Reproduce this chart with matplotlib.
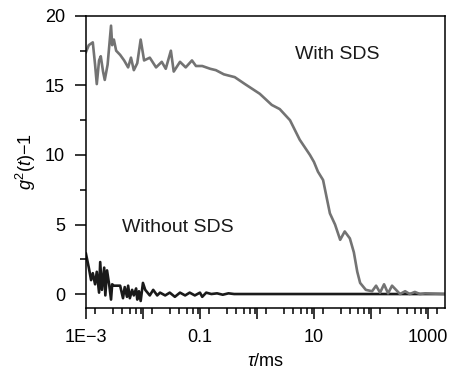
import matplotlib
matplotlib.use("Agg")
import matplotlib.pyplot as plt
import matplotlib.ticker as mticker
import numpy as np

plt.rcParams["font.family"] = ["Liberation Sans", "DejaVu Sans"]
plt.rcParams["mathtext.fontset"] = "custom"
plt.rcParams["mathtext.rm"] = "Liberation Sans"
plt.rcParams["mathtext.it"] = "Liberation Sans:italic"

# log10(tau / ms) and g2(t)-1
logtau_with = [-3.00, -2.95, -2.88, -2.84, -2.81, -2.77, -2.74, -2.70, -2.67, -2.62,
               -2.56, -2.54, -2.51, -2.47, -2.40, -2.33, -2.26, -2.21, -2.16, -2.10,
               -2.04, -1.98, -1.88, -1.77, -1.67, -1.60, -1.51, -1.46, -1.35, -1.25,
               -1.14, -1.07, -0.96, -0.82, -0.72, -0.58, -0.39, -0.21, 0.05, 0.26,
               0.40, 0.58, 0.75, 0.93, 1.00, 1.07, 1.16, 1.28, 1.37, 1.46,
               1.54, 1.63, 1.70, 1.76, 1.81, 1.91, 2.02, 2.09, 2.16, 2.23,
               2.30, 2.37, 2.44, 2.51, 2.60, 2.68, 2.77, 2.86, 2.95, 3.30]
g_with = [17.4, 17.9, 18.1, 16.5, 15.1, 16.8, 17.1, 16.0, 15.4, 16.5,
          19.3, 17.9, 18.3, 17.5, 17.2, 16.8, 16.3, 17.0, 16.1, 16.6,
          18.3, 16.8, 17.0, 16.3, 16.7, 16.2, 17.5, 16.0, 16.7, 16.3,
          16.8, 16.4, 16.4, 16.2, 16.1, 15.8, 15.6, 15.1, 14.4, 13.6,
          13.3, 12.5, 11.1, 10.0, 9.5, 8.8, 8.2, 5.8, 5.0, 3.9,
          4.5, 4.0, 3.0, 1.6, 0.8, 0.3, 0.2, 0.6, 0.1, 0.7,
          0.05, 0.6, 0.3, 0.0, 0.2, 0.0, 0.15, 0.0, 0.05, 0.0]

logtau_without = [-3.00, -2.95, -2.91, -2.88, -2.84, -2.81, -2.77, -2.75, -2.72, -2.68,
                  -2.66, -2.63, -2.59, -2.56, -2.54, -2.51, -2.40, -2.35, -2.32, -2.28,
                  -2.26, -2.23, -2.19, -2.16, -2.12, -2.10, -2.07, -2.04, -2.00, -1.96,
                  -1.88, -1.82, -1.75, -1.70, -1.61, -1.53, -1.44, -1.35, -1.26, -1.18,
                  -1.09, -1.00, -0.96, -0.89, -0.80, -0.70, -0.60, -0.50, -0.40, 0.00,
                  3.30]
g_without = [2.9, 1.9, 1.0, 1.5, 0.7, 1.6, 0.1, 2.3, 0.3, 1.9,
             -0.1, 1.7, 0.6, -0.4, 0.7, 0.6, 0.6, -0.3, 0.5, -0.2,
             0.6, -0.3, 0.3, -0.1, 0.4, -0.4, 0.2, -0.5, 0.8, 0.3,
             -0.1, 0.3, -0.1, 0.1, -0.1, 0.1, -0.2, 0.1, -0.1, 0.1,
             -0.1, 0.1, -0.2, 0.1, 0.0, 0.05, -0.05, 0.05, 0.0, 0.0,
             0.0]

x_tick_vals = [1e-3, 0.1, 10, 1000]
x_tick_labels = ["1E\u22123", "0.1", "10", "1000"]
minor_subs = [1.45, 3.0, 4.3, 5.9, 7.5, 9.2]


def x_label_for(v, pos):
    for tv, tl in zip(x_tick_vals, x_tick_labels):
        if np.isclose(v, tv, rtol=1e-6):
            return tl
    return ""


fig = plt.figure(figsize=(4.5, 3.71), dpi=100)
ax = fig.add_axes([0.191, 0.170, 0.798, 0.787])

tau_w = 10 ** np.array(logtau_with)
tau_wo = 10 ** np.array(logtau_without)
ax.plot(tau_wo, g_without, color="#1a1a1a", lw=1.9)
ax.plot(tau_w, g_with, color="#737373", lw=1.9)

ax.set_xscale("log")
ax.set_xlim(1e-3, 10 ** 3.30)
ax.set_ylim(-1, 20)

ax.xaxis.set_major_locator(mticker.LogLocator(base=10, numticks=20))
ax.xaxis.set_minor_locator(mticker.LogLocator(base=10, subs=minor_subs, numticks=20))
ax.xaxis.set_major_formatter(mticker.FuncFormatter(x_label_for))
ax.xaxis.set_minor_formatter(mticker.NullFormatter())

ax.yaxis.set_major_locator(mticker.MultipleLocator(5))
ax.yaxis.set_minor_locator(mticker.MultipleLocator(2.5))

ax.tick_params(which="major", direction="out", length=8, width=1.1, labelsize=13, pad=7)
ax.tick_params(which="minor", direction="out", length=4, width=1.1)
ax.tick_params(top=False, right=False, which="both")
for s in ax.spines.values():
    s.set_linewidth(1.1)

ax.set_xlabel(r"$\tau$/ms", fontsize=13, labelpad=5)
ax.set_ylabel(r"$g^2(t)$" + "\u22121", fontsize=13, labelpad=5)

ax.text(10 ** 1.40, 17.2, "With SDS", fontsize=14, ha="center", va="center", color="#1a1a1a")
ax.text(10 ** -1.39, 4.75, "Without SDS", fontsize=14, ha="center", va="center", color="#1a1a1a")

fig.savefig("out.png", dpi=100)
